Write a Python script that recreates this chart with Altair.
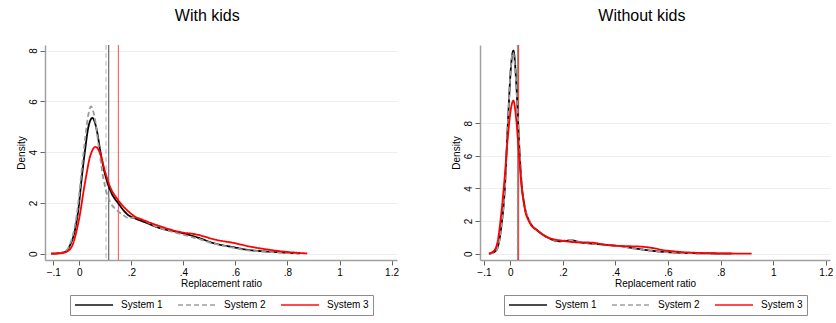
import altair as alt
import pandas as pd

FONT = "Liberation Sans, Arial, sans-serif"

series_names = ["System 1", "System 2", "System 3"]
series_colors = ["#000000", "#9a9a9a", "#ff0000"]
series_dash = [[1, 0], [5, 3], [1, 0]]

x_tick_values = [-0.1, 0, 0.2, 0.4, 0.6, 0.8, 1.0, 1.2]
y_tick_values = [0, 2, 4, 6, 8]

# ---- With kids ----
wk_s1_x = [-0.109, -0.08, -0.055, -0.035, -0.017, -0.004, 0.009, 0.022, 0.035, 0.05, 0.067, 0.08, 0.092,
           0.105, 0.124, 0.15, 0.188, 0.214, 0.252, 0.30, 0.40, 0.46, 0.515, 0.59, 0.656, 0.70, 0.78, 0.848]
wk_s1_d = [0.0, 0.02, 0.07, 0.35, 0.93, 1.72, 2.97, 4.08, 5.0, 5.35, 4.87, 4.08, 3.43,
           2.9, 2.38, 1.98, 1.52, 1.39, 1.24, 1.04, 0.80, 0.62, 0.42, 0.26, 0.14, 0.10, 0.05, 0.01]
wk_s2_x = [-0.109, -0.08, -0.055, -0.035, -0.017, -0.004, 0.009, 0.022, 0.035, 0.045, 0.06, 0.075, 0.09,
           0.105, 0.12, 0.14, 0.165, 0.19, 0.215, 0.235, 0.26, 0.30, 0.38, 0.46, 0.515, 0.59, 0.656, 0.70,
           0.78, 0.85]
wk_s2_d = [0.0, 0.02, 0.08, 0.4, 1.1, 2.0, 3.3, 4.5, 5.5, 5.8, 5.3, 4.2, 3.1,
           2.4, 2.0, 1.75, 1.55, 1.4, 1.42, 1.38, 1.25, 1.05, 0.8, 0.58, 0.4, 0.24, 0.12, 0.09,
           0.04, 0.01]
wk_s3_x = [-0.109, -0.08, -0.055, -0.029, -0.01, 0.003, 0.015, 0.028, 0.041, 0.063, 0.08, 0.099, 0.118,
           0.144, 0.176, 0.214, 0.252, 0.317, 0.40, 0.444, 0.528, 0.59, 0.656, 0.72, 0.78, 0.876]
wk_s3_d = [0.0, 0.01, 0.05, 0.28, 0.93, 1.59, 2.38, 3.16, 3.82, 4.21, 3.95, 3.23, 2.64,
           2.18, 1.79, 1.46, 1.3, 1.06, 0.83, 0.77, 0.54, 0.43, 0.28, 0.17, 0.09, 0.01]
wk_means = [0.113, 0.1026, 0.150]

# ---- Without kids ----
nk_s1_x = [-0.081, -0.059, -0.047, -0.034, -0.021, -0.009, 0.004, 0.012, 0.023, 0.033, 0.042, 0.055,
           0.074, 0.105, 0.137, 0.188, 0.208, 0.234, 0.264, 0.31, 0.36, 0.424, 0.475, 0.52, 0.576, 0.614,
           0.70, 0.78, 0.84]
nk_s1_d = [0.0, 0.12, 0.43, 1.66, 3.9, 8.0, 11.7, 12.45, 10.45, 6.98, 4.52, 2.88,
           1.96, 1.4, 1.04, 0.76, 0.78, 0.82, 0.70, 0.62, 0.55, 0.45, 0.32, 0.22, 0.12, 0.08,
           0.03, 0.01, 0.0]
nk_s2_x = [-0.081, -0.059, -0.047, -0.034, -0.021, -0.009, 0.003, 0.010, 0.022, 0.033, 0.042, 0.055,
           0.074, 0.105, 0.137, 0.188, 0.21, 0.236, 0.264, 0.31, 0.36, 0.424, 0.475, 0.52, 0.576, 0.614,
           0.70, 0.78, 0.84]
nk_s2_d = [0.0, 0.1, 0.4, 1.6, 3.8, 7.9, 11.6, 12.35, 10.6, 7.1, 4.6, 2.95,
           2.0, 1.42, 1.05, 0.78, 0.82, 0.84, 0.72, 0.62, 0.54, 0.44, 0.3, 0.21, 0.11, 0.07,
           0.03, 0.01, 0.0]
nk_s3_x = [-0.081, -0.059, -0.047, -0.034, -0.021, -0.009, 0.004, 0.012, 0.023, 0.033, 0.042, 0.055,
           0.074, 0.105, 0.137, 0.196, 0.25, 0.31, 0.36, 0.40, 0.45, 0.50, 0.551, 0.576, 0.614, 0.652,
           0.70, 0.804, 0.918]
nk_s3_d = [0.0, 0.23, 0.84, 2.48, 4.72, 7.18, 9.02, 9.39, 8.2, 6.16, 4.32, 2.79,
           1.9, 1.4, 1.04, 0.8, 0.7, 0.68, 0.55, 0.49, 0.46, 0.43, 0.32, 0.23, 0.16, 0.1,
           0.06, 0.02, 0.0]
nk_means = [0.029, 0.027, 0.032]


def curves(xs_list, ds_list):
    rows = []
    for name, xs, ds in zip(series_names, xs_list, ds_list):
        for i, (x, d) in enumerate(zip(xs, ds)):
            rows.append({"series": name, "x": x, "d": d, "order": i})
    return pd.DataFrame(rows)


def panel(title, df, means, xdom, ydom, lx):
    leg = dict(orient="none", legendX=lx, legendY=250, direction="horizontal", title=None,
               symbolType="stroke", symbolSize=1444, symbolStrokeWidth=1.8, clipHeight=12,
               labelFontSize=10, labelFont=FONT, labelColor="#000", strokeColor="#8c8c8c",
               padding=4, columnPadding=14, labelOffset=7, symbolOffset=0)
    color = alt.Color("series:N", scale=alt.Scale(domain=series_names, range=series_colors),
                      legend=alt.Legend(**leg))
    dash = alt.StrokeDash("series:N", scale=alt.Scale(domain=series_names, range=series_dash),
                          legend=alt.Legend(**leg))
    xenc = alt.X("x:Q", scale=alt.Scale(domain=xdom, nice=False, zero=False),
                 axis=alt.Axis(title="Replacement ratio", values=x_tick_values, grid=False,
                               labelExpr="datum.value == 0 ? '0' : datum.value == 1 ? '1' : "
                                         "replace(format(datum.value, '.1f'), '0.', '.')"))
    yenc = alt.Y("d:Q", scale=alt.Scale(domain=ydom, nice=False, zero=False),
                 axis=alt.Axis(title="Density", values=y_tick_values, grid=True, labelAngle=-90,
                               labelAlign="center", labelBaseline="bottom"))
    lines = alt.Chart(df).mark_line(strokeWidth=1.8, interpolate="monotone").encode(
        x=xenc, y=yenc, color=color, strokeDash=dash, order="order:Q", detail="series:N")
    mdf = pd.DataFrame({"series": series_names, "x": means})
    rules = alt.Chart(mdf).mark_rule(strokeWidth=1, opacity=0.7).encode(
        x=alt.X("x:Q"), color=alt.Color("series:N"), strokeDash=alt.StrokeDash("series:N"))
    return alt.layer(rules, lines).properties(
        width=352, height=215,
        title=alt.TitleParams(title, fontSize=16, font=FONT, fontWeight="normal", anchor="middle",
                              frame="bounds", baseline="bottom", offset=5, color="#000"))


left = panel("With kids", curves([wk_s1_x, wk_s2_x, wk_s3_x], [wk_s1_d, wk_s2_d, wk_s3_d]),
             wk_means, [-0.132, 1.221], [-0.248, 8.22], 25)
right = panel("Without kids", curves([nk_s1_x, nk_s2_x, nk_s3_x], [nk_s1_d, nk_s2_d, nk_s3_d]),
              nk_means, [-0.115, 1.216], [-0.387, 12.8], 24).properties(width=350)

chart = alt.hconcat(left, right, spacing=52).resolve_scale(
    x="independent", y="independent").resolve_legend(color="independent", strokeDash="independent"
).properties(padding={"left": 16, "top": 7, "right": 0, "bottom": 0}).configure_view(
    stroke=None).configure_axis(
    labelFont=FONT, titleFont=FONT, labelFontSize=10, titleFontSize=10, titleFontWeight="normal",
    labelColor="#000", titleColor="#000", domainColor="#a0a0a0", domainWidth=1.5, tickColor="#666",
    tickSize=5, labelPadding=2, titlePadding=2, gridColor="#e8f0f2", gridWidth=1
).configure_axisX(titlePadding=1)

chart.save("out.html", embed_options={"renderer": "svg", "actions": False})
